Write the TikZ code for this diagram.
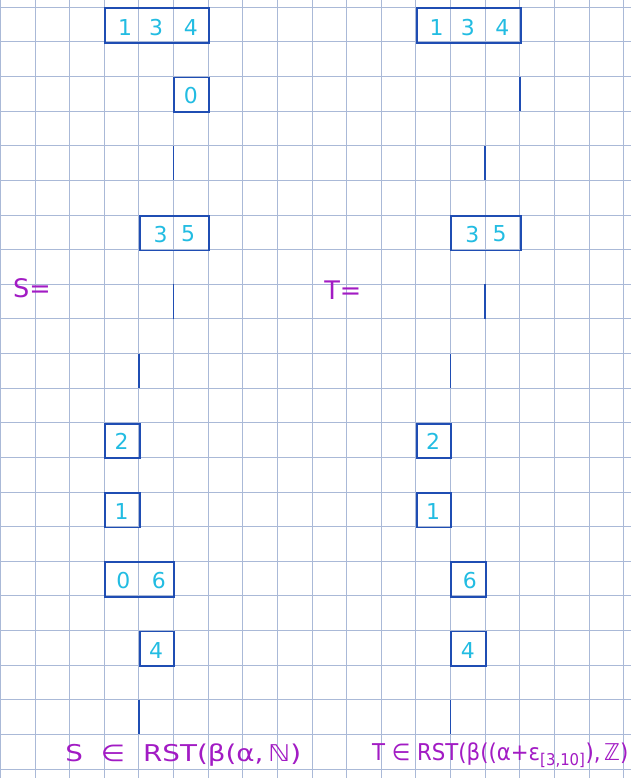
\documentclass[tikz,border=0pt]{standalone}
\usepackage{fontspec}
\setmainfont{DejaVu Sans}
\usepackage{tikz}
\usetikzlibrary{positioning}
\usepackage{xcolor}
\definecolor{gridline}{HTML}{AAB9D7}
\definecolor{boxline}{HTML}{1F4DB3}
\definecolor{entry}{HTML}{22BCE2}
\definecolor{note}{HTML}{A21BC4}
\tikzset{
  cellbox/.style={draw=boxline, line width=1.5pt, inner sep=0pt, anchor=north west,
                  minimum height=1cm},
  entrytxt/.style={text=entry, inner sep=0pt, font=\fontsize{18}{18}\selectfont},
  stem/.style={draw=boxline, line width=1.5pt},
  notetxt/.style={text=note, inner sep=0pt, font=\fontsize{19}{19}\selectfont}
}

\begin{document}
\begin{tikzpicture}
  \useasboundingbox (-0.01,-22.26) rectangle (18.21,0.21);
  \fill[white] (-0.01,-22.26) rectangle (18.21,0.21);
  \foreach \x in {0,...,18}
    \draw[gridline, line width=0.75pt] (\x,0.21) -- (\x,-22.26);
  \foreach \y in {0,...,22}
    \draw[gridline, line width=0.75pt] (-0.01,-\y) -- (18.21,-\y);

  \node[cellbox, minimum width=3cm] (sroot) at (3,0) {};
  \node[cellbox, minimum width=1cm] (szero) at (5,-2) {};
  \node[cellbox, minimum width=2cm] (sthree) at (4,-6) {};
  \node[cellbox, minimum width=1cm] (stwo) at (3,-12) {};
  \node[cellbox, minimum width=1cm] (sone) at (3,-14) {};
  \node[cellbox, minimum width=2cm] (ssix) at (3,-16) {};
  \node[cellbox, minimum width=1cm] (sfour) at (4,-18) {};

  \node[cellbox, minimum width=3cm] (troot) at (12,0) {};
  \node[cellbox, minimum width=2cm] (tthree) at (13,-6) {};
  \node[cellbox, minimum width=1cm] (ttwo) at (12,-12) {};
  \node[cellbox, minimum width=1cm] (tone) at (12,-14) {};
  \node[cellbox, minimum width=1cm] (tsix) at (13,-16) {};
  \node[cellbox, minimum width=1cm] (tfour) at (13,-18) {};

  \foreach \x/\y/\t [count=\i] in {3.6/-0.58/1, 4.5/-0.58/3, 5.5/-0.58/4, 5.5/-2.55/0,
      4.63/-6.55/3, 5.42/-6.55/5, 3.5/-12.55/2, 3.5/-14.55/1, 3.55/-16.55/0,
      4.58/-16.55/6, 4.5/-18.58/4}
    \node[entrytxt] (sentry\i) at (\x,\y) {\t};
  \foreach \x/\y/\t [count=\i] in {12.6/-0.58/1, 13.5/-0.58/3, 14.5/-0.58/4,
      13.63/-6.55/3, 14.42/-6.55/5, 12.5/-12.55/2, 12.5/-14.55/1,
      13.56/-16.55/6, 13.5/-18.58/4}
    \node[entrytxt] (tentry\i) at (\x,\y) {\t};

  \foreach \x/\y [count=\i] in {5/-4, 5/-8, 4/-10, 4/-20, 15/-2, 14/-4, 14/-8, 13/-10, 13/-20} {
    \coordinate (stemtop\i) at (\x,\y);
    \coordinate (stembot\i) at (\x,\y-1);
    \draw[stem] (stemtop\i) -- (stembot\i);
  }

  \node[notetxt, font=\fontsize{21}{21}\selectfont] (slabel) at (0.91,-8.11) {S=};
  \node[notetxt, font=\fontsize{21}{21}\selectfont] (tlabel) at (9.89,-8.17) {T=};
  \node[notetxt, anchor=west] (sclaim) at (1.87,-21.6)
    {\scalebox{1.2}[1]{S\hspace{0.65em}∈\hspace{0.65em}RST(β(α,\,ℕ)}};
  \node[notetxt, anchor=west] (tclaim) at (10.73,-21.6)
    {\scalebox{0.92}[1]{T ∈ RST(β((α+ε\textsubscript{[3,10]}),\,ℤ)}};
\end{tikzpicture}
\end{document}
